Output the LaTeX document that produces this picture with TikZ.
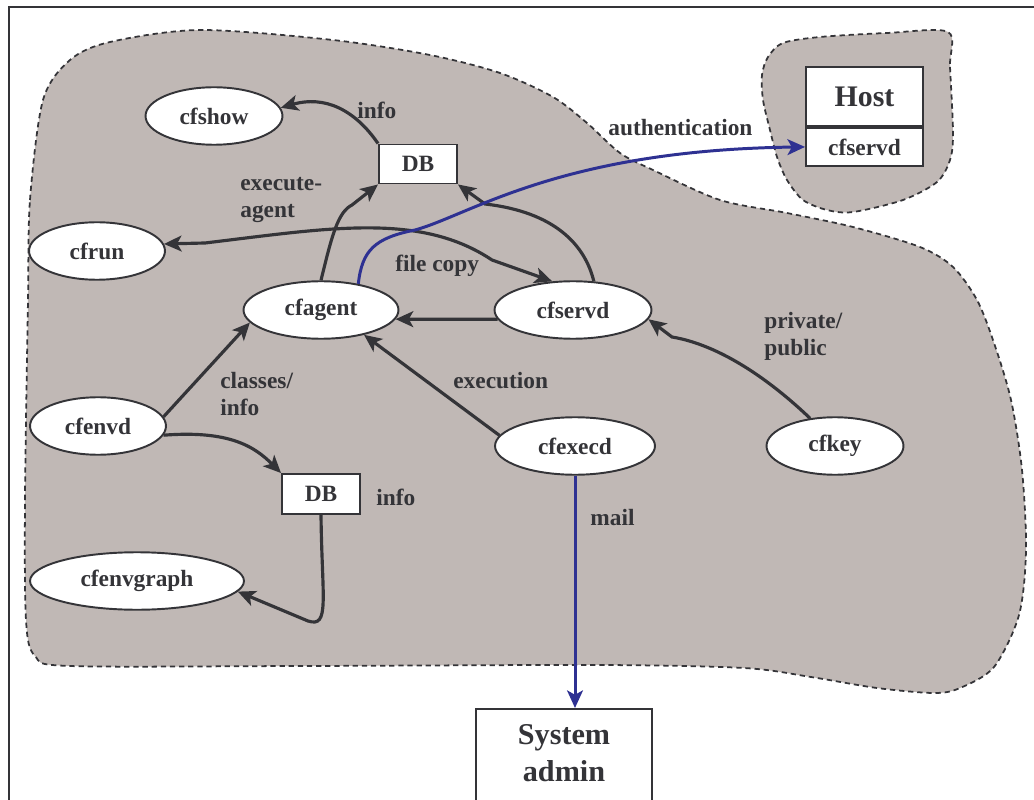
\documentclass[tikz,border=0pt]{standalone}
\usepackage{fontspec}
\setmainfont{Liberation Serif}
\usepackage{xcolor}
\usepackage{tikz}
\usetikzlibrary{shapes,arrows.meta,positioning}

\definecolor{blobgray}{RGB}{192,184,181}
\definecolor{inkgray}{RGB}{52,52,56}
\definecolor{mailblue}{RGB}{46,49,146}

\begin{document}
\begin{tikzpicture}[x=0.02cm, y=-0.02cm,
    every node/.style={font=\fontsize{13.3}{15.3}\selectfont\bfseries, text=inkgray},
    proc/.style={ellipse, draw=inkgray, line width=1.1pt, fill=white, inner sep=0pt, minimum width=2.74cm, minimum height=1.15cm},
    store/.style={rectangle, draw=inkgray, line width=1.1pt, fill=white, inner sep=0pt, minimum width=1.56cm, minimum height=0.78cm},
    tip/.tip={Stealth[length=10pt, width=9pt, inset=2.5pt]},
    arrow/.style={-tip, line width=1.8pt, draw=inkgray},
    mailarrow/.style={-tip, line width=1.7pt, draw=mailblue},
    region/.style={draw=inkgray, dash pattern=on 3pt off 2.2pt, line width=1pt, fill=blobgray},
    lbl/.style={align=left, anchor=west, inner sep=0pt}
]
    \path[use as bounding box] (0,0) rectangle (1034,800);
    \clip (0,0) rectangle (1034,800);

    % Regions
    \path[region] plot[smooth cycle, tension=0.5] coordinates {
        (28,300) (30,200) (43,100) (70,60) (110,42) (200,30) (333,40) (430,55)
        (500,73) (553,97) (587,123) (620,153) (653,170) (720,200) (787,213)
        (853,227) (920,247) (953,267) (977,300) (994,343) (1011,400) (1022,470)
        (1026,550) (1019,615) (994,667) (960,688) (934,693) (877,688) (811,677)
        (744,668) (600,665) (300,666) (70,666) (35,656) (26,620) (25,500)};
    \path[region] plot[smooth cycle, tension=0.5] coordinates {
        (948,32) (950,67) (953,133) (950,160) (937,182) (903,200) (853,212)
        (827,210) (803,200) (787,180) (777,157) (770,130) (763,100) (762,75)
        (768,57) (783,43) (820,37) (887,33)};

    % Frame
    \draw[inkgray, line width=1.1pt] (9,820) -- (9,7) -- (1040,7);

    % Processes
    \node[proc] (cfshow) at (214,116) {cfshow};
    \node[proc, minimum width=2.72cm] (cfrun) at (97,251) {cfrun};
    \node[proc, minimum width=3.1cm] (cfagent) at (321,310) {cfagent};
    \node[proc, minimum width=3.14cm] (cfservd) at (573,310) {cfservd};
    \node[proc, minimum width=2.72cm] (cfenvd) at (98,426) {cfenvd};
    \node[proc, minimum width=4.28cm] (cfenvgraph) at (137,581) {cfenvgraph};
    \node[proc, minimum width=3.2cm] (cfexecd) at (575,446) {cfexecd};
    \node[proc] (cfkey) at (835,446) {cfkey};

    % Databases
    \node[store] (dbtop) at (418,164) {DB};
    \node[store, minimum height=0.8cm] (dbenv) at (321,494) {DB};

    % Remote host and admin
    \node[store, minimum width=2.34cm, minimum height=1.18cm, font=\fontsize{17}{20}\selectfont\bfseries] (host) at (864.5,96.5) {Host};
    \node[store, minimum width=2.34cm, minimum height=0.76cm, anchor=north] (hostsrv) at (host.south) {cfservd};
    \node[store, minimum width=3.52cm, minimum height=2.4cm, anchor=north] (sysadmin) at (564,708) {};
    \node[align=center, anchor=north, inner sep=0pt, font=\fontsize{17.2}{21}\selectfont\bfseries] (sysadmintext) at (564,724) {System\\admin};

    % Labels
    \node[lbl] (infotop) at (357,110) {info};
    \node[lbl] (lblexec) at (240,200) {execute-\\agent};
    \node[lbl] (lblcopy) at (395,266) {file copy};
    \node[lbl] (lblauth) at (608,128) {authentication};
    \node[lbl] (lblclass) at (220,394) {classes/\\info};
    \node[lbl] (lblexecution) at (453,381) {execution};
    \node[lbl] (lblkey) at (764,336) {private/\\public};
    \node[lbl] (infobot) at (376,497) {info};
    \node[lbl] (lblmail) at (590,518) {mail};

    % Arrows
    \draw[arrow] (dbtop.north west) .. controls (355,110) and (325,95) .. (cfshow.7);
    \draw[arrow] (cfagent.north) .. controls (332,235) and (338,212) .. (352,205) -- (dbtop.south west);
    \draw[arrow] (cfservd.54) .. controls (585,245) and (555,212) .. (485,204) -- (dbtop.south east);
    \draw[arrow, tip-tip] (cfrun.6) -- (205,243) .. controls (330,228) and (420,212) .. (492,260) -- (cfservd.126);
    \draw[arrow] (cfservd.187) -- (cfagent.-7);
    \draw[arrow] (cfexecd.172) -- (cfagent.-30);
    \draw[arrow] (cfenvd.8) -- (cfagent.190);
    \draw[arrow] (cfenvd.-8) .. controls (230,430) and (255,447) .. (dbenv.north west);
    \draw[arrow] (dbenv.south) .. controls (322,600) and (330,628) .. (308,621) -- (cfenvgraph.-6);
    \draw[arrow] (cfkey.132) .. controls (770,380) and (720,345) .. (672,337) -- (cfservd.-7);

    % Blue links
    \draw[mailarrow] (cfagent.35) .. controls (362,250) and (375,238) .. (415,230) .. controls (470,215) and (560,150) .. (hostsrv.west);
    \draw[mailarrow] (cfexecd.south) -- (cfexecd.south |- sysadmin.north);
\end{tikzpicture}
\end{document}
